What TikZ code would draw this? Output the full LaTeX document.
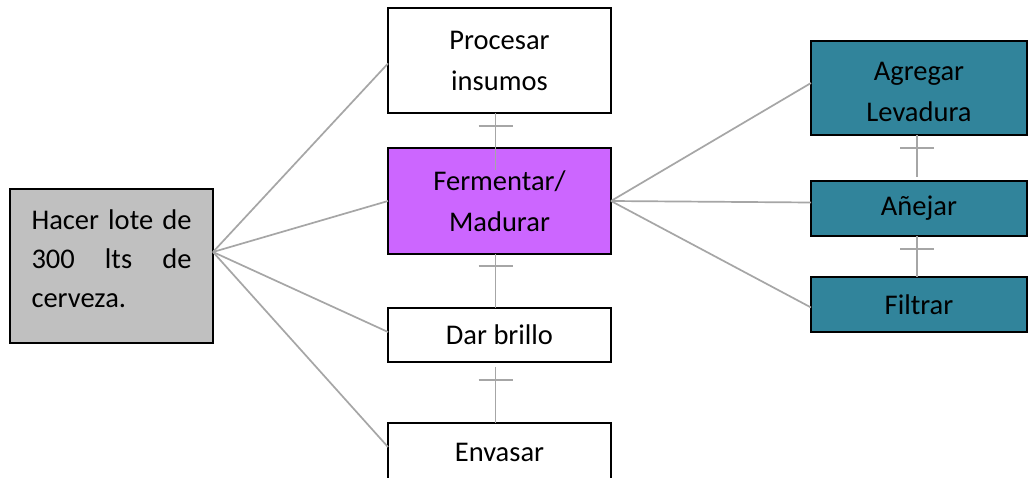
\documentclass[tikz,border=0pt]{standalone}
\usepackage{fontspec}
\setmainfont{Carlito}
\definecolor{boxgray}{HTML}{C0C0C0}
\definecolor{boxviolet}{HTML}{CC66FF}
\definecolor{boxteal}{HTML}{31849B}
\definecolor{linkgray}{HTML}{A6A6A6}
\newcommand{\spreadline}[1]{\leavevmode\hbox to 160pt{#1}}
\begin{document}
\begin{tikzpicture}[x=1pt,y=-1pt,
  task/.style={draw=black,line width=1.6pt,inner sep=0pt,outer sep=0pt,
    align=center,font=\fontsize{28.5}{41}\selectfont},
  link/.style={draw=linkgray,line width=1.7pt}]
\useasboundingbox[fill=white] (0,0) rectangle (1029,478);

% main task, justified text
\node[task,fill=boxgray,minimum width=203pt,minimum height=154pt,
  text width=160pt,align=left,font=\fontsize{28.5}{39}\selectfont]
  (lote) at (111.5,266)
  {\spreadline{Hacer\hfill lote\hfill de}\\\spreadline{300\hfill lts\hfill de}\\cerveza.\rule[-14pt]{0pt}{14pt}};

% middle column
\node[task,fill=white,minimum width=223pt,minimum height=105pt] (proc) at (499.5,60.5) {Procesar\\insumos};
\node[task,fill=boxviolet,minimum width=223pt,minimum height=106pt] (ferm) at (499.5,201) {Fermentar/\\Madurar};
\node[task,fill=white,minimum width=223pt,minimum height=54pt] (brillo) at (499.5,335) {Dar brillo};
\node[task,fill=white,minimum width=223pt,minimum height=58pt] (env) at (499.5,452) {Envasar};

% right column
\node[task,fill=boxteal,minimum width=216pt,minimum height=94pt] (lev) at (919,88) {\rule{0pt}{26pt}Agregar\\Levadura};
\node[task,fill=boxteal,minimum width=216pt,minimum height=55pt] (anej) at (919,208.5) {Añejar};
\node[task,fill=boxteal,minimum width=216pt,minimum height=55pt] (filt) at (919,304.5) {Filtrar};

% fan-out from the main task
\coordinate (hubL) at ([yshift=14pt]lote.east);
\draw[link] (hubL) -- ([yshift=-3pt]proc.west);
\draw[link] (hubL) -- (ferm.west);
\draw[link] (hubL) -- ([yshift=3pt]brillo.west);
\draw[link] (hubL) -- ([yshift=5pt]env.west);

% fan-out from fermentation
\draw[link] (ferm.east) -- ([yshift=5pt]lev.west);
\draw[link] (ferm.east) -- ([yshift=6pt]anej.west);
\draw[link] (ferm.east) -- ([yshift=-3pt]filt.west);

% sequence links with a crossbar just below the upper box
\draw[link] ([xshift=-4pt]proc.south) -- ([xshift=-4pt,yshift=-22pt]ferm.north);
\draw[link] ([xshift=-4pt,yshift=-13pt]proc.south) +(-17pt,0) -- +(17pt,0);

\draw[link] ([xshift=-4pt]ferm.south) -- ([xshift=-4pt]brillo.north);
\draw[link] ([xshift=-4pt,yshift=-12pt]ferm.south) +(-17pt,0) -- +(17pt,0);

\draw[link] ([xshift=-4pt,yshift=-5pt]brillo.south) -- ([xshift=-4pt]env.north);
\draw[link] ([xshift=-4pt,yshift=-18pt]brillo.south) +(-17pt,0) -- +(17pt,0);

\draw[link] ([xshift=-2pt]lev.south) -- ([xshift=-2pt,yshift=4pt]anej.north);
\draw[link] ([xshift=-2pt,yshift=-13pt]lev.south) +(-17pt,0) -- +(17pt,0);

\draw[link] ([xshift=-2pt]anej.south) -- ([xshift=-2pt]filt.north);
\draw[link] ([xshift=-2pt,yshift=-13pt]anej.south) +(-17pt,0) -- +(17pt,0);
\end{tikzpicture}
\end{document}
